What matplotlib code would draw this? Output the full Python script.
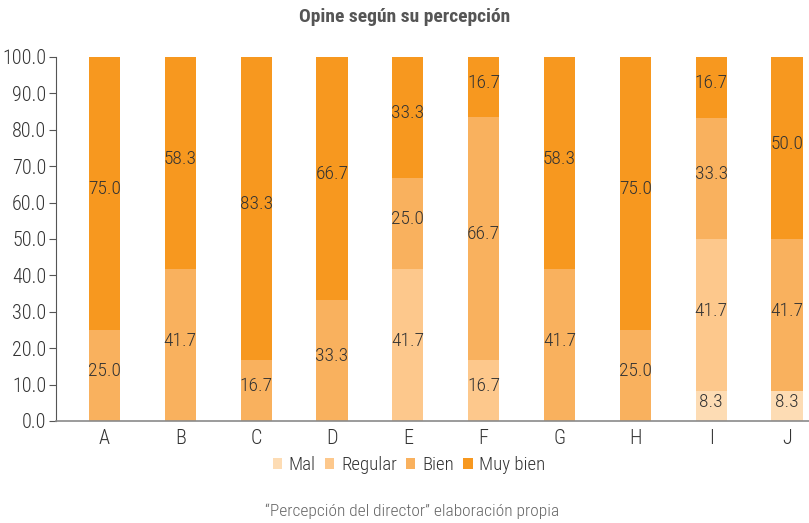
import numpy as np
import matplotlib
matplotlib.use("Agg")
import matplotlib.pyplot as plt

categories = ["A", "B", "C", "D", "E", "F", "G", "H", "I", "J"]
series = ["Mal", "Regular", "Bien", "Muy bien"]
mal = [0, 0, 0, 0, 0, 0, 0, 0, 8.3, 8.3]
regular = [0, 0, 0, 0, 41.7, 16.7, 0, 0, 41.7, 0]
bien = [25.0, 41.7, 16.7, 33.3, 25.0, 66.7, 41.7, 25.0, 33.3, 41.7]
muy_bien = [75.0, 58.3, 83.3, 66.7, 33.3, 16.7, 58.3, 75.0, 16.7, 50.0]

COLORS = ["#fddcb4", "#fdc88c", "#f9b15e", "#f7981f"]
TXT = "#333333"

plt.rcParams["font.family"] = ["Roboto Condensed", "PT Sans Narrow", "Fira Sans Condensed",
                               "Liberation Sans Narrow", "Lato", "DejaVu Sans"]
plt.rcParams["font.weight"] = "light"

fig = plt.figure(figsize=(8.09, 5.23), dpi=100)
# axes: left spine at x=56px, y=0 at 421px, y=100 at 57px
ax = fig.add_axes([56/809, 1 - 421/523, 1 - 56/809, 364*1.01/523])

x = np.arange(len(categories))
bottom = np.zeros(len(categories))
for name, vals, c in zip(series, [mal, regular, bien, muy_bien], COLORS):
    vals = np.array(vals)
    ax.bar(x, vals, 0.41, bottom=bottom, color=c, label=name, zorder=2)
    for xi, b, v in zip(x, bottom, vals):
        if v > 0:
            ax.text(xi, b + v / 2 + 1.2, f"{v:.1f}", ha="center", va="center",
                    fontsize=14, color=TXT)
    bottom += vals

ax.set_xlim(-0.64, 9.29)
ax.set_ylim(0, 101)
ax.set_yticks(np.arange(0, 101, 10))
ax.set_yticklabels([f"{v:.1f}" for v in np.arange(0, 101, 10)])
ax.set_xticks(x)
ax.set_xticklabels(categories)
ax.spines["top"].set_visible(False)
ax.spines["right"].set_visible(False)
ax.spines["left"].set_bounds(0, 100)
ax.spines["left"].set_color("#555555")
ax.spines["bottom"].set_color("#8a8a8a")
ax.spines["bottom"].set_linewidth(1.2)
ax.tick_params(axis="both", labelsize=14.5, colors=TXT)
ax.tick_params(axis="x", length=0, pad=6)
ax.tick_params(axis="y", length=5, color="#555555", pad=2)

fig.text(0.5, 1 - 17/523, "Opine según su percepción", ha="center", va="center",
         fontsize=14, fontweight="bold", color="#555555")

fig.legend(loc="center", bbox_to_anchor=(409/809, 1 - 465/523), ncol=4, frameon=False,
           fontsize=13.5, handlelength=0.5, handleheight=0.5, handletextpad=0.35,
           columnspacing=0.5, labelcolor=TXT)

fig.text(412/809, 1 - 511/523, "“Percepción del director” elaboración propia",
         ha="center", va="center", fontsize=12.5, color="#666666")

fig.savefig("out.png", dpi=100)
